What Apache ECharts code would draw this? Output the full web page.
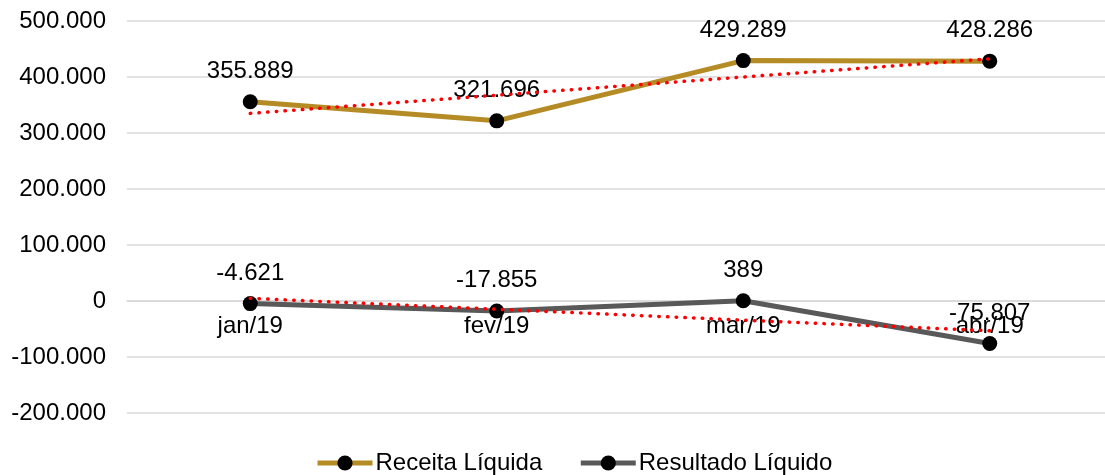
<!DOCTYPE html>
<html>
<head>
<meta charset="utf-8">
<script src="https://cdn.jsdelivr.net/npm/echarts@6/dist/echarts.min.js"></script>
<style>
  html, body { margin: 0; padding: 0; background: #fff; overflow: hidden; }
  #main { width: 1113px; height: 475px; }
</style>
</head>
<body>
<div id="main"></div>
<script>
var meses = ['jan/19', 'fev/19', 'mar/19', 'abr/19'];
var receita = [355889, 321696, 429289, 428286];
var resultado = [-4621, -17855, 389, -75807];
// linhas de tendência
var tendReceita = [335000, 367500, 400000, 432500];
var tendResultado = [4800, -14700, -34200, -53100];

var fonte = 'Liberation Sans, Arial, sans-serif';

function fmt(v) {
    var s = String(Math.abs(v)).replace(/\B(?=(\d{3})+(?!\d))/g, '.');
    return (v < 0 ? '-' : '') + s;
}

var chart = echarts.init(document.getElementById('main'));

var rotulo = {
    show: true,
    position: 'top',
    distance: 11,
    color: '#000',
    fontFamily: fonte,
    fontSize: 24,
    formatter: function (p) { return fmt(p.value); }
};

function tendencia(nome, dados) {
    return {
        name: nome,
        type: 'line',
        data: dados,
        symbol: 'none',
        silent: true,
        z: 5,
        lineStyle: { color: '#ff0000', width: 3.5, type: [0.5, 8.2], cap: 'round' },
        tooltip: { show: false }
    };
}

var option = {
    animation: false,
    grid: { left: 127, right: 0, top: 21, bottom: 62 },
    legend: {
        data: ['Receita Líquida', 'Resultado Líquido'],
        top: 446,
        left: 310,
        itemWidth: 55,
        itemHeight: 19,
        itemGap: 36,
        lineStyle: { width: 5 },
        textStyle: { color: '#000', fontFamily: fonte, fontSize: 24, padding: [0, 0, 0, -2] }
    },
    xAxis: {
        type: 'category',
        data: meses,
        offset: -112.5,
        axisLine: { lineStyle: { color: '#d9d9d9', width: 1.5 } },
        axisTick: { show: false },
        axisLabel: { color: '#000', fontFamily: fonte, fontSize: 24, margin: 14 }
    },
    yAxis: {
        type: 'value',
        min: -200000,
        max: 500000,
        interval: 100000,
        axisLine: { show: false },
        axisTick: { show: false },
        splitLine: { lineStyle: { color: '#d9d9d9', width: 1.5 } },
        axisLabel: {
            color: '#000', fontFamily: fonte, fontSize: 24, margin: 21,
            formatter: function (v) { return fmt(v); }
        }
    },
    series: [
        {
            name: 'Receita Líquida',
            type: 'line',
            data: receita,
            symbol: 'circle',
            symbolSize: 15,
            lineStyle: { color: '#b58b25', width: 5 },
            itemStyle: { color: '#000' },
            label: rotulo
        },
        {
            name: 'Resultado Líquido',
            type: 'line',
            data: resultado,
            symbol: 'circle',
            symbolSize: 15,
            lineStyle: { color: '#595959', width: 5 },
            itemStyle: { color: '#000' },
            label: rotulo
        },
        tendencia('tendReceita', tendReceita),
        tendencia('tendResultado', tendResultado)
    ]
};

chart.setOption(option);
</script>
</body>
</html>
